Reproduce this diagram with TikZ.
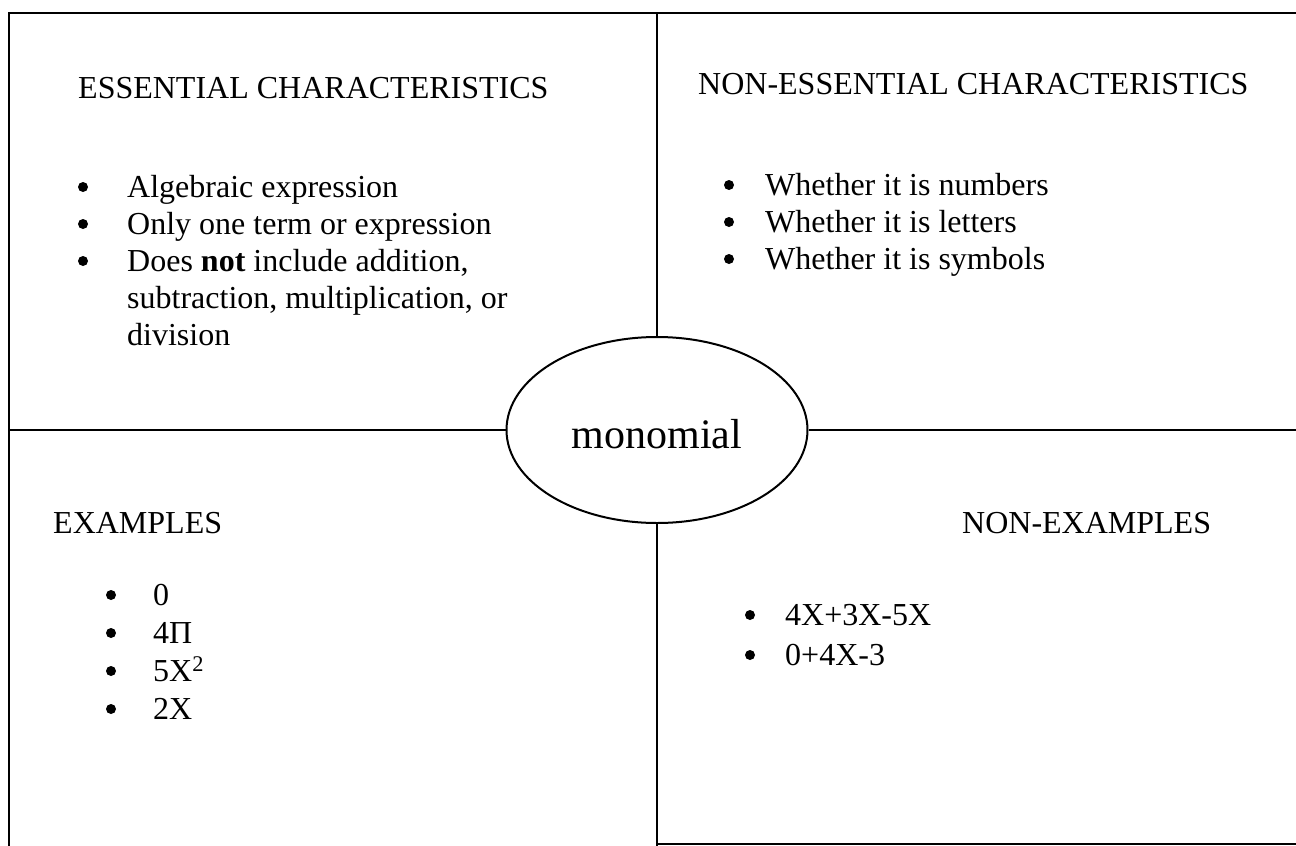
\documentclass[tikz,border=0pt]{standalone}
\usepackage{fontspec}
\setmainfont{Liberation Serif}
\usetikzlibrary{shapes.geometric}
\begin{document}
\begin{tikzpicture}[x=1pt,y=-1pt,
  txt/.style={anchor=base west, inner sep=0pt, font=\fontsize{32}{38}\selectfont},
  bul/.style={circle, fill=black, inner sep=0pt, minimum size=10pt},
  frame/.style={line width=2.6pt},
  divider/.style={line width=2pt}]
\useasboundingbox (0,0) rectangle (1296,846);
% frame
\coordinate (tl) at (9,13);
\coordinate (tr) at (1296,13);
\coordinate (bl) at (9,846);
\coordinate (bm) at (657,844);
\coordinate (br) at (1296,844);
\draw[frame] (bl) -- (tl) -- (tr);
\draw[frame] (bm) -- (br);
% centre ellipse
\node[ellipse, draw, line width=2pt, minimum width=301pt, minimum height=186pt, inner sep=0pt] (ell) at (657,430) {};
\node[anchor=base, inner sep=0pt, font=\fontsize{42}{48}\selectfont] (mono) at (657,448) {monomial};
\coordinate (vtop) at (657,13);
\coordinate (vbot) at (657,846);
\coordinate (hl) at (9,432);
\coordinate (hr) at (1296,430);
\draw[divider] (ell.north) -- (vtop);
\draw[divider] (ell.south) -- (vbot);
\draw[divider] (ell.west) -- (ell.west -| hl);
\draw[divider] (ell.east) -- (ell.east -| hr);
% top left
\node[txt] (h1) at (78,98) {ESSENTIAL CHARACTERISTICS};
\node[bul] (b11) at (83,187) {};
\node[bul] (b12) at (83,224) {};
\node[bul] (b13) at (83,261) {};
\node[txt] (t11) at (127,197) {Algebraic expression};
\node[txt] (t12) at (127,234) {Only one term or expression};
\node[txt] (t13) at (127,271) {Does \textbf{not} include addition,};
\node[txt] (t14) at (127,308) {subtraction, multiplication, or};
\node[txt] (t15) at (127,345) {division};
% top right
\node[txt] (h2) at (698,94) {NON-ESSENTIAL CHARACTERISTICS};
\node[bul] (b21) at (729,185) {};
\node[bul] (b22) at (729,222) {};
\node[bul] (b23) at (729,259) {};
\node[txt] (t21) at (765,195) {Whether it is numbers};
\node[txt] (t22) at (765,232) {Whether it is letters};
\node[txt] (t23) at (765,269) {Whether it is symbols};
% bottom left
\node[txt] (h3) at (53,533) {EXAMPLES};
\node[bul] (b31) at (111,595) {};
\node[bul] (b32) at (111,633) {};
\node[bul] (b33) at (111,671) {};
\node[bul] (b34) at (111,709) {};
\node[txt] (t31) at (153,605) {0};
\node[txt] (t32) at (153,643) {4Π};
\node[txt] (t33) at (153,681) {5X\textsuperscript{2}};
\node[txt] (t34) at (153,719) {2X};
% bottom right
\node[txt] (h4) at (962,533) {NON-EXAMPLES};
\node[bul] (b41) at (750,615) {};
\node[bul] (b42) at (750,655) {};
\node[txt] (t41) at (785,625) {4X+3X-5X};
\node[txt] (t42) at (785,665) {0+4X-3};
\end{tikzpicture}
\end{document}
